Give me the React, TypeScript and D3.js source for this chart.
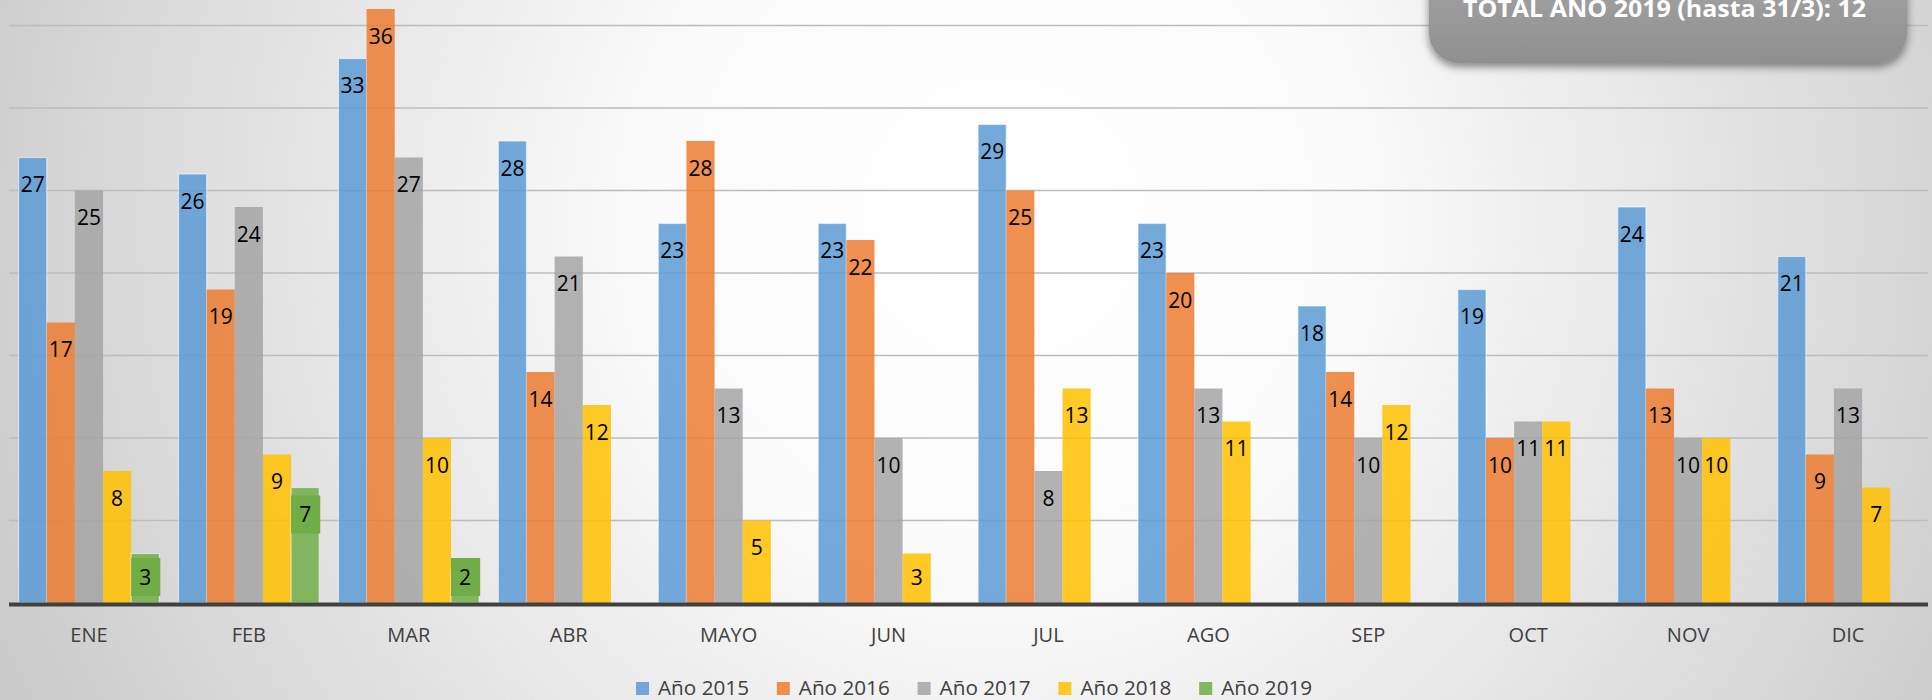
import React, { useEffect } from "react";
import * as d3 from "d3";

const months = ["ENE", "FEB", "MAR", "ABR", "MAYO", "JUN", "JUL", "AGO", "SEP", "OCT", "NOV", "DIC"];
const seriesNames = ["Año 2015", "Año 2016", "Año 2017", "Año 2018", "Año 2019"];
const y2015 = [27, 26, 33, 28, 23, 23, 29, 23, 18, 19, 24, 21];
const y2016 = [17, 19, 36, 14, 28, 22, 25, 20, 14, 10, 13, 9];
const y2017 = [25, 24, 27, 21, 13, 10, 8, 13, 10, 11, 10, 13];
const y2018 = [8, 9, 10, 12, 5, 3, 13, 11, 12, 11, 10, 7];
const y2019: (number | null)[] = [3, 7, 2, null, null, null, null, null, null, null, null, null];
const seriesColors = ["#5B9BD5", "#ED7D31", "#A5A5A5", "#FFC000", "#70AD47"];
const totalText = "TOTAL AÑO 2019 (hasta 31/3): 12";

const W = 1932;
const H = 700;
const FONT = "'Open Sans', 'Liberation Sans', sans-serif";

export default function App() {
  useEffect(() => {
    document.body.style.margin = "0";
  }, []);

  const allSeries = [y2015, y2016, y2017, y2018, y2019];
  const x0 = d3.scaleBand<string>().domain(months).range([9, 1928]).paddingInner(0.12).paddingOuter(0.06);
  const x1 = d3.scaleBand<string>().domain(seriesNames).range([0, x0.bandwidth()]);
  const y = d3.scaleLinear().domain([0, 36.5]).range([603, 0.75]);
  const ticks = y.ticks(8).filter((t) => t > 0);
  const bw = x1.bandwidth();

  const labelCenter = (v: number) => Math.min(y(v) + 27, y(0) - 26);

  return (
    <svg width={W} height={H} style={{ display: "block" }}>
      <defs>
        <radialGradient id="bg" gradientUnits="userSpaceOnUse" cx={1000} cy={220} r={1150}>
          <stop offset="0" stopColor="#ffffff" />
          <stop offset="0.3" stopColor="#fbfbfb" />
          <stop offset="0.7" stopColor="#dedede" />
          <stop offset="1" stopColor="#c6c6c6" />
        </radialGradient>
        <linearGradient id="boxg" x1="0" y1="0" x2="0" y2="1">
          <stop offset="0" stopColor="#a6a6a6" />
          <stop offset="1" stopColor="#8f8f8f" />
        </linearGradient>
        <filter id="shadow" x="-10%" y="-30%" width="120%" height="180%">
          <feDropShadow dx="0" dy="4" stdDeviation="4" floodColor="#000" floodOpacity="0.45" />
        </filter>
      </defs>
      <rect x={0} y={0} width={W} height={H} fill="url(#bg)" />

      {/* gridlines */}
      {ticks.map((t) => (
        <line key={t} x1={9} x2={1928} y1={y(t)} y2={y(t)} stroke="#bdbdbd" strokeWidth={1.5} />
      ))}

      {/* bars */}
      {months.map((m, i) => (
        <g key={m} transform={`translate(${x0(m)},0)`}>
          {allSeries.map((s, j) => {
            const v = s[i];
            if (v == null) return null;
            const light = j === 0 || j === 4;
            return (
              <rect
                key={j}
                x={x1(seriesNames[j])}
                y={y(v)}
                width={bw}
                height={y(0) - y(v)}
                fill={seriesColors[j]}
                fillOpacity={0.85}
                stroke={light ? "rgba(255,255,255,0.55)" : "none"}
                strokeWidth={light ? 1.2 : 0}
              />
            );
          })}
        </g>
      ))}

      {/* axis line */}
      <line x1={9} x2={1928} y1={y(0) + 1.5} y2={y(0) + 1.5} stroke="#404040" strokeWidth={4} />

      {/* data labels */}
      {months.map((m, i) => (
        <g key={"l" + m} transform={`translate(${x0(m)},0)`}>
          {allSeries.map((s, j) => {
            const v = s[i];
            if (v == null) return null;
            const cx = (x1(seriesNames[j]) as number) + bw / 2;
            const cy = labelCenter(v);
            return (
              <g key={j}>
                {j === 4 && (
                  <rect x={cx - bw / 2} y={cy - 19} width={bw + 1} height={38} fill="#70AD47" />
                )}
                <text
                  x={cx}
                  y={cy}
                  dy="0.36em"
                  textAnchor="middle"
                  fontFamily={FONT}
                  fontSize={21}
                  fill="#000"
                >
                  {v}
                </text>
              </g>
            );
          })}
        </g>
      ))}

      {/* x axis labels */}
      {months.map((m) => (
        <text
          key={"x" + m}
          x={(x0(m) as number) + x0.bandwidth() / 2}
          y={642}
          textAnchor="middle"
          fontFamily={FONT}
          fontSize={20}
          fill="#404040"
        >
          {m}
        </text>
      ))}

      {/* legend */}
      {seriesNames.map((s, j) => {
        const lx = 636 + j * 140.8;
        return (
          <g key={"lg" + s}>
            <rect x={lx} y={682} width={13} height={13} fill={seriesColors[j]} fillOpacity={0.85} />
            <text
              x={lx + 22}
              y={695}
              fontFamily={FONT}
              fontSize={20}
              fill="#404040"
              textLength={91}
              lengthAdjust="spacingAndGlyphs"
            >
              {s}
            </text>
          </g>
        );
      })}

      {/* total box */}
      <g filter="url(#shadow)">
        <rect x={1429} y={-40} width={478} height={103} rx={30} ry={30} fill="url(#boxg)" />
      </g>
      <text
        x={1463}
        y={17}
        fontFamily={FONT}
        fontWeight="bold"
        fontSize={24}
        fill="#ffffff"
        textLength={403}
        lengthAdjust="spacingAndGlyphs"
      >
        {totalText}
      </text>
    </svg>
  );
}
